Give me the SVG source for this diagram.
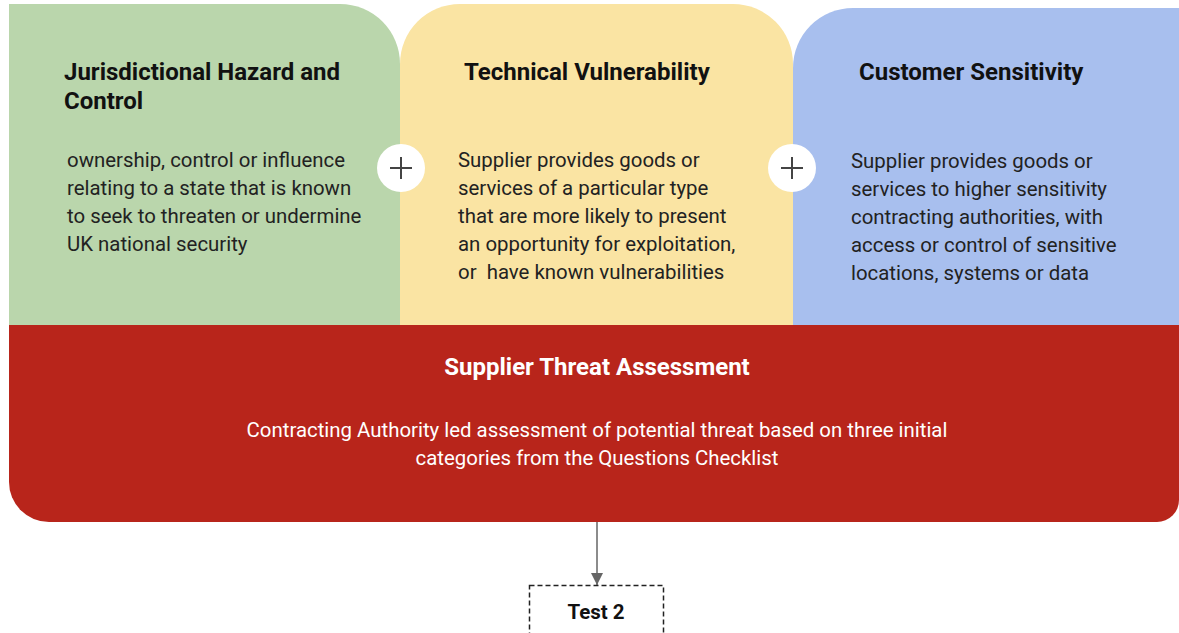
<svg xmlns="http://www.w3.org/2000/svg" width="1179" height="633" viewBox="0 0 1179 633">
<defs>
<style>
.t{font-family:Roboto,"Liberation Sans",sans-serif;font-weight:bold;font-size:24px;fill:#111}
.b{font-family:Roboto,"Liberation Sans",sans-serif;font-size:20.4px;fill:#222}
.w{fill:#fff}
.plus{stroke:#444;stroke-width:2;fill:none}
</style>
<marker id="ah" markerWidth="12" markerHeight="12" refX="10" refY="5" orient="auto" markerUnits="userSpaceOnUse" viewBox="0 0 10 10">
<path d="M0,0 L10,5 L0,10 Z" fill="#666"/>
</marker>
</defs>
<rect width="1179" height="633" fill="#fff"/>
<g id="green">
<path d="M9,4 H340 A60,60 0 0 1 400,64 V325 H9 Z" fill="#bad6ac"/>
<text class="t" x="64" y="80">Jurisdictional Hazard and</text>
<text class="t" x="64" y="109">Control</text>
<text class="b" x="67" y="167">ownership, control or influence</text>
<text class="b" x="67" y="195">relating to a state that is known</text>
<text class="b" x="67" y="223">to seek to threaten or undermine</text>
<text class="b" x="67" y="251">UK national security</text>
</g>
<g id="yellow">
<path d="M400,64 A60,60 0 0 1 460,4 H733 A60,60 0 0 1 793,64 V325 H400 Z" fill="#fae4a3"/>
<text class="t" x="464" y="80">Technical Vulnerability</text>
<text class="b" x="458" y="167">Supplier provides goods or</text>
<text class="b" x="458" y="195">services of a particular type</text>
<text class="b" x="458" y="223">that are more likely to present</text>
<text class="b" x="458" y="251">an opportunity for exploitation,</text>
<text class="b" x="458" y="279" xml:space="preserve">or  have known vulnerabilities</text>
</g>
<g id="blue">
<path d="M793,68 A60,60 0 0 1 853,8 H1179 V325 H793 Z" fill="#a8bfee"/>
<text class="t" x="859" y="80">Customer Sensitivity</text>
<text class="b" x="851" y="168">Supplier provides goods or</text>
<text class="b" x="851" y="196">services to higher sensitivity</text>
<text class="b" x="851" y="224">contracting authorities, with</text>
<text class="b" x="851" y="252">access or control of sensitive</text>
<text class="b" x="851" y="280">locations, systems or data</text>
</g>
<g id="plus1">
<circle cx="401" cy="168" r="24" fill="#fff"/>
<path class="plus" d="M390,168 H412 M401,157 V179"/>
</g>
<g id="plus2">
<circle cx="792" cy="168" r="24" fill="#fff"/>
<path class="plus" d="M781,168 H803 M792,157 V179"/>
</g>
<g id="sta">
<path d="M9,325 H1179 V500 A22,22 0 0 1 1157,522 H49 A40,40 0 0 1 9,482 Z" fill="#b8251b"/>
<text class="t w" x="597" y="375" text-anchor="middle">Supplier Threat Assessment</text>
<text class="b w" x="597" y="437" text-anchor="middle">Contracting Authority led assessment of potential threat based on three initial</text>
<text class="b w" x="597" y="465" text-anchor="middle">categories from the Questions Checklist</text>
</g>
<g id="connectors">
<line x1="597" y1="522" x2="597" y2="585" stroke="#666" stroke-width="1.5" marker-end="url(#ah)"/>
</g>
<g id="test2">
<rect x="529.5" y="585.5" width="134" height="60" fill="#fff" stroke="#222" stroke-width="1.5" stroke-dasharray="5,3"/>
<text class="t" x="596" y="619" text-anchor="middle" style="font-size:20.5px">Test 2</text>
</g>
</svg>
